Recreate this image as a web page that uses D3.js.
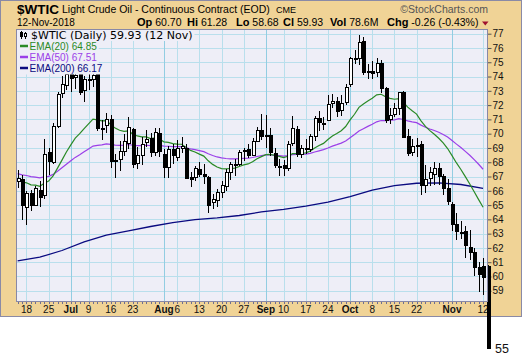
<!DOCTYPE html>
<html>
<head>
<meta charset="utf-8">
<script src="https://cdn.jsdelivr.net/npm/d3@7"></script>
<style>
  body { margin: 0; background: #fff; }
  svg { display: block; }
</style>
</head>
<body>
<div id="chart"></div>
<script>
// ---- data ----
const dates = ['06-14','06-15','06-18','06-19','06-20','06-21','06-22','06-25','06-26','06-27','06-28','06-29',
  '07-02','07-03','07-05','07-06','07-09','07-10','07-11','07-12','07-13','07-16','07-17','07-18','07-19','07-20',
  '07-23','07-24','07-25','07-26','07-27','07-30','07-31',
  '08-01','08-02','08-03','08-06','08-07','08-08','08-09','08-10','08-13','08-14','08-15','08-16','08-17',
  '08-20','08-21','08-22','08-23','08-24','08-27','08-28','08-29','08-30','08-31',
  '09-04','09-05','09-06','09-07','09-10','09-11','09-12','09-13','09-14','09-17','09-18','09-19','09-20','09-21',
  '09-24','09-25','09-26','09-27','09-28',
  '10-01','10-02','10-03','10-04','10-05','10-08','10-09','10-10','10-11','10-12','10-15','10-16','10-17','10-18','10-19',
  '10-22','10-23','10-24','10-25','10-26','10-29','10-30','10-31',
  '11-01','11-02','11-05','11-06','11-07','11-08','11-09','11-12','11-13']

const opens = [66.65,66.85,64.86,65.88,65.06,66.05,65.68,68.70,68.04,70.51,72.80,73.36,
  74.28,74.00,74.61,73.00,73.86,73.81,74.22,70.38,70.58,71.01,68.16,68.18,68.75,69.37,
  70.35,67.95,68.55,69.38,69.68,68.73,70.03,
  68.60,67.67,68.94,68.39,69.03,69.02,66.95,66.97,67.54,67.20,66.96,65.22,65.34,
  65.96,66.38,67.29,67.89,67.90,68.77,68.94,68.54,69.50,70.23,
  69.89,69.93,68.64,67.66,67.78,67.60,69.30,70.36,68.57,68.99,68.93,69.84,71.10,70.72,
  70.95,72.15,72.27,71.60,72.20,
  73.45,75.30,75.29,76.50,74.39,74.42,74.36,74.93,73.21,71.04,71.39,71.80,72.90,69.85,68.70,
  69.23,69.30,66.40,66.90,67.17,67.62,67.05,66.22,
  65.08,63.66,63.02,63.16,62.03,61.70,60.68,60.70,60.75]

const highs = [67.45,67.09,66.01,66.06,66.36,66.70,69.64,68.99,70.73,72.95,74.03,74.46,
  75.27,75.00,74.70,74.03,74.49,74.73,74.28,70.97,71.44,71.34,68.58,69.48,70.01,71.19,
  70.38,69.07,69.76,70.24,70.08,70.39,70.41,
  68.91,69.13,69.30,69.53,69.78,69.31,67.30,67.77,68.02,67.89,67.03,65.76,66.13,
  66.71,67.50,68.03,68.24,68.83,69.02,69.28,69.71,70.49,71.40,
  71.31,70.43,68.98,68.25,68.15,69.50,71.21,70.52,69.22,69.64,70.00,71.27,71.60,71.18,
  72.71,72.80,72.60,72.68,73.48,
  75.35,75.87,76.90,76.78,74.91,75.11,75.28,75.14,73.25,71.80,72.18,72.94,73.01,70.34,69.60,
  69.68,69.48,67.82,67.67,67.99,67.93,67.20,66.80,
  65.22,64.46,63.87,63.52,63.24,61.96,61.01,61.28,60.80]

const lows = [66.23,63.96,63.59,64.56,64.92,64.85,65.40,67.13,67.91,70.43,72.50,73.06,
  72.94,73.11,72.71,72.20,73.07,73.24,70.20,69.59,70.08,67.63,66.87,67.39,68.42,68.94,
  67.57,67.56,67.82,69.06,68.37,68.44,68.37,
  66.92,66.93,67.87,68.07,68.67,66.85,66.26,66.69,66.95,66.50,64.43,64.75,64.89,
  65.48,66.02,66.79,67.06,67.73,68.06,68.32,68.46,69.40,69.59,
  68.97,68.42,67.62,67.07,67.01,67.39,69.16,68.40,68.29,68.58,68.72,69.52,70.19,70.29,
  70.87,71.80,71.16,71.27,72.00,
  73.28,74.90,74.83,74.13,73.82,73.80,73.97,72.88,70.77,70.69,71.17,71.32,69.68,68.47,68.42,
  68.34,65.74,65.83,66.35,66.41,66.43,65.70,64.99,
  63.19,62.59,62.63,61.31,61.18,60.03,58.88,58.68,54.90]

const closes = [66.89,65.06,65.85,65.07,66.22,65.54,68.58,68.08,70.53,72.76,73.45,74.15,
  73.94,74.14,72.94,73.80,73.85,74.11,70.38,70.33,71.01,68.06,68.08,68.76,69.46,70.46,
  67.89,68.52,69.30,69.61,68.69,70.13,68.76,
  67.66,68.96,68.49,69.01,69.17,66.94,66.81,67.63,67.20,67.04,65.01,65.46,65.91,
  66.43,67.35,67.86,67.83,68.72,68.87,68.53,69.51,70.25,69.80,
  69.87,68.72,67.77,67.75,67.54,69.25,70.37,68.59,68.99,68.91,69.85,71.12,70.80,70.78,
  72.08,72.28,71.57,72.12,73.25,
  75.30,75.23,76.41,74.33,74.34,74.29,74.96,73.17,70.97,71.34,71.78,72.92,69.75,68.65,69.12,
  69.17,66.43,66.82,67.33,67.59,67.04,66.18,65.31,
  63.69,63.14,63.10,62.21,61.67,60.67,60.19,59.93,55.00]

const ema20 = [66.80,66.63,66.56,66.42,66.40,66.32,66.53,66.68,67.05,67.59,68.15,68.72,
  69.22,69.69,70.00,70.36,70.69,71.02,70.96,70.90,70.91,70.64,70.39,70.24,70.16,70.19,
  69.97,69.84,69.78,69.77,69.66,69.71,69.62,
  69.43,69.39,69.30,69.27,69.26,69.04,68.83,68.72,68.57,68.43,68.10,67.85,67.67,
  67.55,67.53,67.56,67.59,67.70,67.81,67.88,68.03,68.24,68.39,
  68.53,68.55,68.48,68.41,68.33,68.42,68.60,68.60,68.64,68.66,68.78,69.00,69.17,69.32,
  69.59,69.84,70.01,70.21,70.50,
  70.96,71.36,71.84,72.08,72.29,72.48,72.72,72.76,72.59,72.47,72.41,72.46,72.20,71.86,71.60,
  71.37,70.90,70.51,70.21,69.96,69.68,69.35,68.96,
  68.46,67.95,67.49,66.99,66.48,65.93,65.38,64.85]

const ema50 = [67.20,67.12,67.07,66.99,66.96,66.90,66.97,67.01,67.15,67.37,67.61,67.86,
  68.10,68.34,68.52,68.73,68.93,69.13,69.18,69.22,69.29,69.25,69.20,69.18,69.19,69.24,
  69.19,69.17,69.17,69.19,69.17,69.21,69.19,
  69.13,69.12,69.10,69.09,69.10,69.01,68.93,68.88,68.81,68.74,68.59,68.47,68.37,
  68.30,68.26,68.24,68.23,68.25,68.27,68.28,68.33,68.40,68.46,
  68.51,68.52,68.49,68.46,68.43,68.46,68.53,68.54,68.55,68.57,68.62,68.72,68.80,68.88,
  69.00,69.13,69.23,69.34,69.49,
  69.72,69.94,70.19,70.35,70.51,70.66,70.83,70.92,70.92,70.94,70.97,71.05,70.99,70.90,70.83,
  70.77,70.60,70.45,70.33,70.22,70.10,69.94,69.76,
  69.52,69.27,69.03,68.76,68.49,68.18,67.86,67.51]

// EMA(200) is almost straight, so read it once a week
const ema200Dates = ['06-14','06-21','06-28','07-06','07-13','07-20','07-27','08-03','08-10','08-17','08-24',
  '08-31','09-10','09-17','09-24','10-01','10-08','10-15','10-22','10-29','11-05','11-12']
const ema200 = [61.10,61.35,61.82,62.42,62.90,63.20,63.50,63.77,63.98,64.10,64.27,
  64.52,64.70,64.92,65.21,65.59,66.05,66.36,66.53,66.55,66.44,66.17]

const tickDates = ['06-18','06-25','07-02','07-09','07-16','07-23','08-01','08-06','08-13','08-20','08-27',
  '09-04','09-10','09-17','09-24','10-01','10-08','10-15','10-22','11-01','11-12']
const tickLabels = ['18','25','Jul','9','16','23','Aug','6','13','20','27',
  'Sep','10','17','24','Oct','8','15','22','Nov','12']
const monthTicks = ['Jul','Aug','Sep','Oct','Nov']

const yTicks = d3.range(59, 78)

const hdrLabels = ['Op','Hi','Lo','Cl','Vol','Chg']
const hdrValues = ['60.70','61.28','58.68','59.93','78.6M','-0.26 (-0.43%)']

const legendItems = [
  { name: 'EMA(20) 64.85', color: '#2A8A26' },
  { name: 'EMA(50) 67.51', color: '#9B3FE8' },
  { name: 'EMA(200) 66.17', color: '#0A0A80' }
]

// ---- layout ----
const width = 522
const height = 360
const plotL = 16.5, plotR = 487.5, plotT = 29.5, plotB = 301.5
const plotBg = '#EEEEF7'

let svg = d3.select('#chart')
            .append('svg')
            .attr('width', width)
            .attr('height', height)
            .style('font-family', "'Liberation Sans', Arial, sans-serif")

// Scales
let xScale = d3.scalePoint()
xScale.domain(dates)
xScale.range([17.63, 487.5])

let yScale = d3.scaleLinear()
yScale.domain([55, 77])
yScale.range([347.9, 33.7])

const px = (d) => Math.round(xScale(d))

// Background frame
svg.append('rect')
.attr('x', 0.5).attr('y', 0.5)
.attr('width', width - 1).attr('height', 316)
.attr('fill', '#F0D396')
.attr('stroke', '#8A8AA6')

svg.append('rect')
.attr('x', plotL).attr('y', plotT)
.attr('width', plotR - plotL).attr('height', plotB - plotT)
.attr('fill', plotBg)

// Grid
let grid = svg.append('g').attr('shape-rendering', 'crispEdges')
grid.selectAll('.hgrid')
.data(yTicks)
.enter()
.append('line')
.attr('x1', plotL).attr('x2', plotR)
.attr('y1', (v) => Math.round(yScale(v)) + 0.5)
.attr('y2', (v) => Math.round(yScale(v)) + 0.5)
.attr('stroke', '#B9DFEC')

grid.selectAll('.vgrid')
.data(tickDates)
.enter()
.append('line')
.attr('x1', (d) => px(d) + 0.5).attr('x2', (d) => px(d) + 0.5)
.attr('y1', plotT).attr('y2', plotB)
.attr('stroke', (d, i) => monthTicks.includes(tickLabels[i]) ? '#92CDE2' : '#B9DFEC')

// Daily ticks under the plot
svg.append('g')
.attr('shape-rendering', 'crispEdges')
.selectAll('line')
.data(dates)
.enter()
.append('line')
.attr('x1', (d) => px(d) + 0.5).attr('x2', (d) => px(d) + 0.5)
.attr('y1', plotB).attr('y2', plotB + 2)
.attr('stroke', '#6E6E90')

// X labels
svg.append('g').selectAll('text')
.data(tickDates)
.enter()
.append('text')
.attr('x', (d) => xScale(d))
.attr('y', 312.5)
.attr('text-anchor', 'middle')
.attr('font-size', '10px')
.attr('font-weight', (d, i) => monthTicks.includes(tickLabels[i]) ? 'bold' : 'normal')
.attr('fill', '#111')
.text((d, i) => tickLabels[i])

// Y axis
let yAxis = d3.axisRight()
yAxis.scale(yScale)
yAxis.tickValues(yTicks)
yAxis.tickSize(4)
yAxis.tickPadding(1)

let yG = svg.append('g')
.attr('transform', 'translate(' + plotR + ',0)')
.call(yAxis)
yG.select('.domain').remove()
yG.selectAll('line').attr('stroke', '#555')
yG.selectAll('text')
.attr('font-family', "'Liberation Sans', Arial, sans-serif")
.attr('font-size', '10px')
.attr('fill', '#111')

// EMA lines
const idx = d3.range(dates.length)
let lineFrom = (vals, ds) => d3.line()
  .x((v, i) => xScale(ds[i]))
  .y((v) => yScale(v))(vals)

svg.append('path').attr('d', lineFrom(ema200, ema200Dates))
.attr('fill', 'none').attr('stroke', legendItems[2].color).attr('stroke-width', 1.3)
svg.append('path').attr('d', lineFrom(ema50, dates))
.attr('fill', 'none').attr('stroke', legendItems[1].color).attr('stroke-width', 1.2)
svg.append('path').attr('d', lineFrom(ema20, dates))
.attr('fill', 'none').attr('stroke', legendItems[0].color).attr('stroke-width', 1.2)

// Candles
let candles = svg.append('g').attr('shape-rendering', 'crispEdges')
candles.selectAll('.wick')
.data(idx)
.enter()
.append('line')
.attr('x1', (i) => px(dates[i]) + 0.5)
.attr('x2', (i) => px(dates[i]) + 0.5)
.attr('y1', (i) => yScale(highs[i]))
.attr('y2', (i) => yScale(lows[i]))
.attr('stroke', '#000')

candles.selectAll('.body')
.data(idx)
.enter()
.append('rect')
.attr('x', (i) => px(dates[i]) - 0.5)
.attr('y', (i) => Math.round(yScale(Math.max(opens[i], closes[i]))) + 0.5)
.attr('width', 3)
.attr('height', (i) => Math.max(1, Math.round(Math.abs(yScale(opens[i]) - yScale(closes[i])))))
.attr('fill', (i) => closes[i] >= opens[i] ? '#fff' : '#000')
.attr('stroke', '#000')

// Plot border (drawn over the marks, last bar still runs out below)
svg.append('rect')
.attr('x', plotL).attr('y', plotT)
.attr('width', plotR - plotL).attr('height', plotB - plotT)
.attr('fill', 'none')
.attr('stroke', '#8888A6')
.attr('shape-rendering', 'crispEdges')

// Label for the last bar low
svg.append('text')
.attr('x', 495).attr('y', 352.5)
.attr('font-size', '12.5px')
.attr('fill', '#111')
.text(d3.format('.0f')(lows[lows.length - 1] + 0.1))

// Header
svg.append('text')
.attr('x', 17).attr('y', 14)
.attr('font-size', '13.5px').attr('font-weight', 'bold')
.text('$WTIC')
svg.append('text')
.attr('x', 62).attr('y', 12.7)
.attr('font-size', '10.5px')
.text('Light Crude Oil - Continuous Contract (EOD)')
svg.append('text')
.attr('x', 276).attr('y', 12.7)
.attr('font-size', '9px')
.text('CME')
svg.append('text')
.attr('x', 488).attr('y', 12.7)
.attr('text-anchor', 'end')
.attr('font-size', '10.5px')
.attr('fill', '#555')
.text('\u00A9StockCharts.com')

svg.append('text')
.attr('x', 17).attr('y', 26)
.attr('font-size', '10px')
.text('12-Nov-2018')

const hdrX = [137, 187, 236, 283, 330, 387]
let hdr = svg.append('g').selectAll('text')
.data(hdrLabels)
.enter()
.append('text')
.attr('x', (d, i) => hdrX[i]).attr('y', 26)
hdr.append('tspan').attr('font-weight', 'bold').attr('font-size', '11px').text((d) => d)
hdr.append('tspan').attr('font-size', '10.5px').text((d, i) => ' ' + hdrValues[i])

svg.append('path')
.attr('d', 'M482,21.5 L488.5,21.5 L485.25,25.5 Z')
.attr('fill', '#A0102E')

// Legend inside the plot, each row on its own opaque strip
let legendG = svg.append('g')
let titleBg = legendG.append('rect').attr('fill', plotBg)
let title = legendG.append('text')
.attr('x', 31).attr('y', 38.5)
.attr('font-size', '11px')
.attr('font-family', "'DejaVu Sans', Verdana, sans-serif")
.text('$WTIC (Daily) ' + d3.format('.2f')(closes[closes.length - 2]) + ' (12 Nov)')
titleBg.attr('x', 17).attr('y', 30)
.attr('width', 31 + title.node().getComputedTextLength() - 17 + 2)
.attr('height', 11)

let icon = legendG.append('g').attr('shape-rendering', 'crispEdges')
icon.append('line').attr('x1', 21.5).attr('x2', 21.5).attr('y1', 31).attr('y2', 39).attr('stroke', '#000')
icon.append('rect').attr('x', 20.5).attr('y', 32.5).attr('width', 2).attr('height', 4).attr('fill', '#000').attr('stroke', '#000')
icon.append('line').attr('x1', 25.5).attr('x2', 25.5).attr('y1', 32).attr('y2', 39).attr('stroke', '#000')
icon.append('rect').attr('x', 24.5).attr('y', 33.5).attr('width', 2).attr('height', 3).attr('fill', '#fff').attr('stroke', '#000')

let leg = legendG.selectAll('.leg')
.data(legendItems)
.enter()
.append('g')
.attr('transform', (d, i) => 'translate(0,' + (i * 11) + ')')
let legBg = leg.append('rect').attr('fill', plotBg)
leg.append('line')
.attr('x1', 20).attr('x2', 28)
.attr('y1', 46).attr('y2', 46)
.attr('stroke', (d) => d.color).attr('stroke-width', 2.5)
leg.append('text')
.attr('x', 29.5).attr('y', 49.5)
.attr('font-size', '10px')
.attr('fill', (d) => d.color)
.text((d) => d.name)
legBg.attr('x', 17).attr('y', 41)
.attr('width', function() {
  const t = this.parentNode.querySelector('text')
  return 29.5 + t.getComputedTextLength() - 17 + 2
})
.attr('height', 11.5)
</script>
</body>
</html>
